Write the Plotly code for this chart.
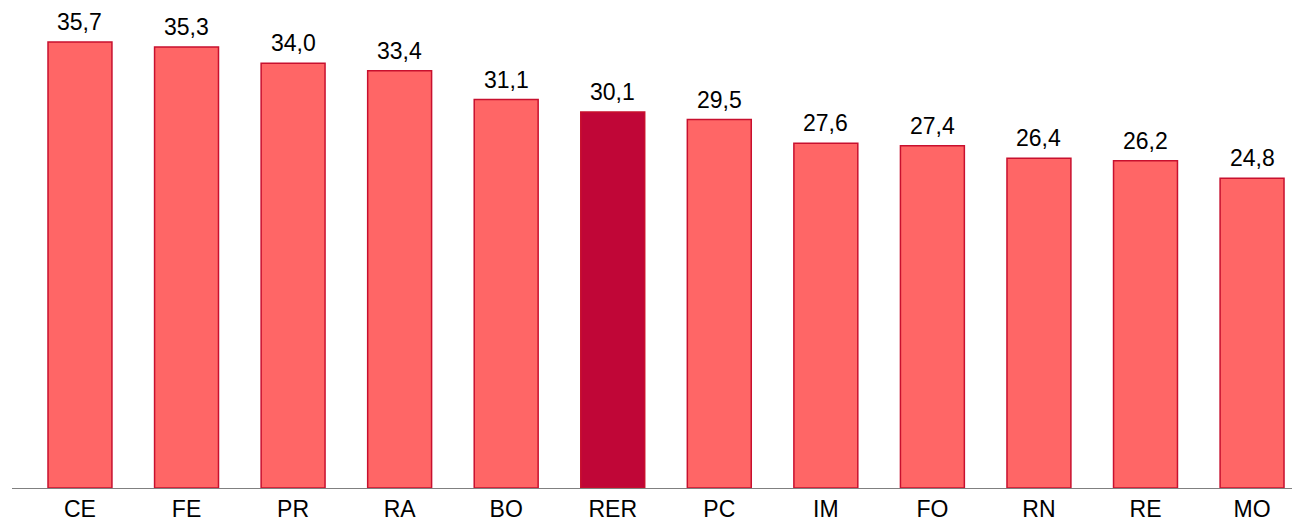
import plotly.graph_objects as go

categories = ["CE", "FE", "PR", "RA", "BO", "RER", "PC", "IM", "FO", "RN", "RE", "MO"]
values = [35.7, 35.3, 34.0, 33.4, 31.1, 30.1, 29.5, 27.6, 27.4, 26.4, 26.2, 24.8]
highlight = "RER"

fill = ["#C00637" if c == highlight else "#FF6666" for c in categories]
font_family = "Liberation Sans, Arial, sans-serif"

fig = go.Figure()
fig.add_trace(
    go.Bar(
        x=categories,
        y=values,
        marker=dict(color=fill, line=dict(color="#C8102E", width=1.5)),
    )
)

# value labels above bars, a bit higher than plotly's default outside text
for c, v in zip(categories, values):
    fig.add_annotation(
        x=c,
        y=v,
        text=f"{v:.1f}".replace(".", ","),
        showarrow=False,
        yanchor="bottom",
        yshift=5,
        font=dict(family=font_family, size=23, color="#000000"),
    )

# page body has an 8px margin, so the plot area is shifted to compensate
fig.update_layout(
    width=1300,
    height=522,
    margin=dict(l=4, r=8, t=2, b=42),
    plot_bgcolor="white",
    paper_bgcolor="white",
    bargap=0.4,
    showlegend=False,
    font=dict(family=font_family, size=23, color="#000000"),
    xaxis=dict(
        range=[-0.638, 11.45],
        showline=True,
        linecolor="#808080",
        linewidth=1,
        ticks="",
        showgrid=False,
        tickfont=dict(size=23),
    ),
    yaxis=dict(
        range=[0, 38.27],
        visible=False,
        showgrid=False,
        zeroline=False,
    ),
)

fig.write_html("out.html")
